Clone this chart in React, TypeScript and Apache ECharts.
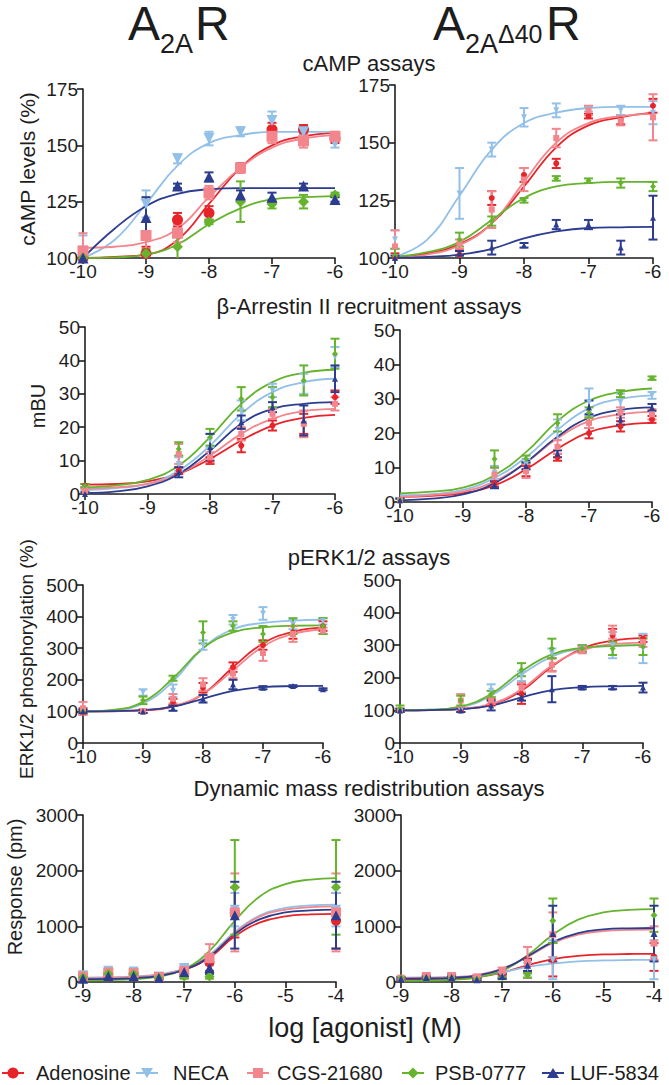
import React, { useEffect, useRef } from "react";
import * as echarts from "echarts";

// ---------- categories / styling per agonist ----------
const AGONISTS = ["Adenosine", "NECA", "CGS-21680", "PSB-0777", "LUF-5834"];
const COLORS = ["#e8242b", "#93c0e8", "#f2868c", "#66b32e", "#2c3d8f"];
const SYMBOLS = ["circle", "triangle", "rect", "diamond", "triangle"];
const SYMBOL_ROT = [0, 180, 0, 0, 0];

// ---------- x positions (log [agonist] M) ----------
const CAMP_X = [-10, -9, -8.5, -8, -7.5, -7, -6.5, -6];
const ARR_X = [-10, -8.5, -8, -7.5, -7, -6.5, -6];
const ERK_X = [-10, -9, -8.5, -8, -7.5, -7, -6.5, -6];
const DMR_X = [-9, -8.5, -8, -7.5, -7, -6.5, -6, -4];
const FIT_X_LOW = [-10, -9.5, -9, -8.5, -8, -7.5, -7, -6.5, -6];
const FIT_X_DMR = [-9, -8.5, -8, -7.5, -7, -6.5, -6, -5.5, -5, -4.5, -4];

// ---------- cAMP, A2AR ----------
const CAMP_WT_MEAN = [
  [100, 102, 117, 120, 140, 157, 157, 153],
  [103, 124, 144, 153, 156, 161, 156, 151],
  [103, 110, 111, 129, 140, 154, 152, 154],
  [100, 102, 105, 116, 125, 124, 125, 128],
  [100, 118, 132, 136, 128, 127, 132, 126],
];
const CAMP_WT_ERR = [
  [5, 3, 3, 3, 2, 3, 2, 2],
  [7, 6, 2, 3, 2, 4, 2, 2],
  [8, 16, 4, 3, 2, 3, 3, 2],
  [4, 2, 6, 1, 9, 2, 3, 1],
  [3, 9, 1, 2, 2, 2, 1, 1],
];
const CAMP_WT_FIT = [
  [100, 100.5, 101.5, 108, 124, 140, 150, 154, 155.5],
  [100, 108, 124, 141, 151, 154.5, 156, 156, 156],
  [104.5, 105, 107, 113, 127, 140, 149, 153, 154.5],
  [100, 100.3, 101.5, 106, 115, 122, 126, 127, 127.5],
  [100, 113, 123, 128.5, 130.5, 131, 131, 131, 131],
];

// ---------- cAMP, A2A-delta40R ----------
const CAMP_D40_MEAN = [
  [100, 101.5, 126, 136, 141, 161.5, 160, 166],
  [108, 128, 147, 161, 164, 164.5, 164, 163],
  [105, 106, 121, 134, 152, 164, 159.5, 161],
  [101, 108, 116, 125, 134.5, 133.5, 132.5, 131],
  [100, 102, 104.5, 105.5, 114.5, 114.5, 104.5, 117.5],
];
const CAMP_D40_ERR = [
  [2, 2, 3, 3, 2, 1, 2, 3],
  [4, 11, 3, 4, 3, 1, 2, 5],
  [7, 2, 8, 5, 4, 2, 2, 10],
  [3, 3, 2, 1, 1, 1, 2, 2],
  [1, 1, 3, 1, 2, 2, 3, 9.5],
];
const CAMP_D40_FIT = [
  [100.5, 102, 106, 115, 131, 148, 157.5, 161, 163],
  [100.5, 108, 127, 147, 158.5, 163, 165, 165.5, 165.5],
  [100, 101.5, 105.5, 115, 133, 150, 158.5, 161.5, 162.5],
  [100.5, 102.5, 107, 116.5, 126, 131, 132.5, 133, 133],
  [100, 100.5, 101.5, 104, 108.5, 111.5, 113, 113.3, 113.5],
];

// ---------- beta-arrestin II, A2AR ----------
const ARR_WT_MEAN = [
  [2.5, 7, 10, 14.5, 20.5, 21, 29],
  [1.5, 9, 16, 25, 31, 33, 41],
  [1, 12, 11, 18, 24, 21, 27],
  [2.5, 13.5, 17, 28.5, 29, 34, 42],
  [0, 6.5, 14, 21.5, 26, 22, 34.5],
];
const ARR_WT_ERR = [
  [0.5, 1, 1, 2, 1.5, 3, 2],
  [0.5, 2, 2, 3, 2, 3, 3],
  [0.5, 3, 1.5, 2, 1.5, 4, 2],
  [0.5, 2, 2.5, 3.5, 3, 4.5, 4.5],
  [0.5, 1.5, 4, 2, 1.5, 4.5, 4],
];
const ARR_WT_FIT = [
  [2.8, 3, 3.8, 6, 10.5, 16, 20.5, 22.8, 23.7],
  [1.2, 1.8, 3, 7, 14.5, 24, 30.5, 33.5, 34.5],
  [1.6, 2, 3, 6, 11.5, 18, 22.5, 24.8, 25.5],
  [2, 2.6, 4.2, 8.5, 17, 27, 33.5, 36.3, 37.2],
  [0.3, 0.8, 2.3, 6, 13, 21, 25.5, 27, 27.5],
];

// ---------- beta-arrestin II, A2A-delta40R ----------
const ARR_D40_MEAN = [
  [0.5, 5.5, 9, 13, 20, 22, 24],
  [0.5, 8.5, 11, 21, 29, 29, 31],
  [0.5, 8, 9, 16, 23, 26, 25.5],
  [0.5, 12.5, 12.5, 23, 26, 31.5, 36],
  [0.5, 5, 10.5, 14, 27.5, 24, 27.5],
];
const ARR_D40_ERR = [
  [0.5, 1, 1.5, 1, 1.5, 1.5, 1],
  [0.5, 2, 1.5, 3, 4, 2.5, 1],
  [0.5, 2, 2, 2, 1.5, 1.5, 1.5],
  [0.5, 2.5, 1, 2.5, 1.5, 1, 0.5],
  [0.5, 1, 1, 1, 2, 1.5, 1],
];
const ARR_D40_FIT = [
  [1.5, 1.8, 2.6, 4.8, 9.5, 15.5, 20.3, 22.3, 23],
  [2, 2.3, 3.5, 7, 13, 21, 27.3, 30, 31],
  [1.5, 2, 3, 6, 11.5, 18.5, 23.5, 25.5, 26.3],
  [2.5, 3, 4.2, 7.8, 14.5, 23.5, 29.5, 32, 33],
  [0.5, 1, 2.2, 5.5, 11.5, 19, 24.5, 26.8, 27.5],
];

// ---------- pERK1/2, A2AR ----------
const ERK_WT_MEAN = [
  [100, 100, 130, 175, 240, 310, 350, 370],
  [100, 160, 165, 310, 390, 410, 375, 385],
  [110, 100, 140, 185, 220, 285, 345, 355],
  [100, 135, 205, 350, 370, 345, 370, 370],
  [100, 100, 110, 140, 185, 175, 180, 170],
];
const ERK_WT_ERR = [
  [10, 5, 10, 15, 15, 15, 20, 15],
  [5, 10, 20, 15, 15, 20, 15, 10],
  [20, 5, 15, 20, 15, 25, 25, 10],
  [5, 12, 8, 35, 15, 25, 25, 25],
  [5, 5, 8, 12, 15, 5, 3, 3],
];
const ERK_WT_FIT = [
  [100, 100.5, 103, 115, 155, 240, 315, 352, 365],
  [100, 104, 125, 195, 300, 360, 380, 387, 390],
  [100, 101, 104, 117, 155, 230, 305, 345, 360],
  [100, 105, 130, 205, 300, 350, 366, 371, 372],
  [100, 101, 104, 115, 140, 165, 177, 180, 181],
];

// ---------- pERK1/2, A2A-delta40R ----------
const ERK_D40_MEAN = [
  [100, 100, 125, 150, 240, 290, 330, 320],
  [100, 100, 160, 205, 275, 290, 300, 290],
  [100, 130, 130, 170, 240, 285, 340, 310],
  [105, 130, 150, 225, 290, 290, 290, 295],
  [100, 100, 115, 140, 165, 170, 170, 170],
];
const ERK_D40_ERR = [
  [5, 5, 10, 30, 20, 10, 20, 10],
  [5, 5, 20, 15, 15, 10, 40, 45],
  [5, 20, 10, 15, 20, 10, 20, 15],
  [10, 15, 10, 20, 30, 10, 20, 25],
  [5, 5, 15, 10, 40, 5, 5, 15],
];
const ERK_D40_FIT = [
  [100, 101, 104, 118, 160, 235, 290, 314, 322],
  [100, 102, 110, 145, 210, 265, 290, 297, 300],
  [100, 101, 105, 120, 165, 238, 285, 303, 308],
  [100, 102, 112, 150, 220, 272, 292, 298, 300],
  [100, 101, 104, 115, 140, 162, 171, 174, 175],
];

// ---------- DMR, A2AR ----------
const DMR_WT_MEAN = [
  [80, 130, 150, 80, 150, 350, 1250, 1100],
  [120, 200, 190, 100, 250, 400, 1300, 1300],
  [100, 170, 160, 90, 200, 430, 1250, 1250],
  [80, 150, 140, 70, 100, 100, 1700, 1700],
  [60, 110, 110, 70, 180, 250, 1200, 1200],
];
const DMR_WT_ERR = [
  [30, 40, 40, 30, 80, 150, 450, 500],
  [40, 50, 50, 40, 60, 100, 300, 300],
  [40, 40, 60, 40, 120, 250, 700, 700],
  [30, 40, 40, 30, 40, 40, 850, 850],
  [30, 40, 40, 30, 60, 100, 600, 600],
];
const DMR_WT_FIT = [
  [60, 65, 80, 120, 220, 440, 820, 1070, 1180, 1215, 1225],
  [80, 85, 100, 140, 240, 490, 900, 1200, 1330, 1375, 1390],
  [70, 75, 90, 130, 230, 470, 880, 1180, 1300, 1345, 1360],
  [30, 35, 50, 100, 230, 560, 1100, 1540, 1760, 1840, 1865],
  [50, 55, 70, 110, 220, 460, 860, 1130, 1250, 1285, 1300],
];

// ---------- DMR, A2A-delta40R ----------
const DMR_D40_MEAN = [
  [60, 90, 100, 60, 120, 300, 400, 450],
  [60, 80, 90, 70, 130, 250, 400, 400],
  [70, 110, 110, 90, 200, 350, 850, 700],
  [70, 70, 70, 50, 80, 120, 1100, 1200],
  [60, 80, 80, 40, 100, 300, 870, 870],
];
const DMR_D40_ERR = [
  [20, 30, 30, 20, 40, 120, 300, 250],
  [20, 30, 30, 20, 40, 100, 350, 350],
  [30, 50, 50, 40, 60, 280, 400, 300],
  [20, 20, 20, 20, 30, 40, 400, 300],
  [20, 20, 20, 20, 40, 100, 500, 500],
];
const DMR_D40_FIT = [
  [50, 52, 60, 90, 170, 300, 410, 470, 495, 503, 505],
  [80, 82, 90, 115, 175, 270, 330, 370, 388, 395, 397],
  [70, 73, 85, 125, 240, 450, 700, 850, 915, 935, 940],
  [20, 25, 40, 80, 200, 480, 850, 1120, 1250, 1295, 1310],
  [60, 63, 75, 115, 230, 460, 720, 880, 945, 965, 970],
];

// ---------- texts ----------
const SECTION_TITLES = [
  "cAMP assays",
  "β-Arrestin II recruitment assays",
  "pERK1/2 assays",
  "Dynamic mass redistribution assays",
];
const Y_NAMES = ["cAMP levels (%)", "mBU", "ERK1/2 phosphorylation (%)", "Response (pm)"];
const X_NAME = "log [agonist] (M)";

const FONT = "'Liberation Sans', Arial, Helvetica, sans-serif";
const INK = "#1d1d1d";

// layout of the eight panels (positions are layout, not data)
const PANELS = [
  { g: { left: 83, top: 89, width: 252, height: 169 }, xr: [-10, -6], yr: [100, 175, 25], x: CAMP_X, m: CAMP_WT_MEAN, e: CAMP_WT_ERR, fx: FIT_X_LOW, f: CAMP_WT_FIT, sz: 11 },
  { g: { left: 395, top: 85, width: 258, height: 173 }, xr: [-10, -6], yr: [100, 175, 25], x: CAMP_X, m: CAMP_D40_MEAN, e: CAMP_D40_ERR, fx: FIT_X_LOW, f: CAMP_D40_FIT, sz: 6 },
  { g: { left: 85, top: 327, width: 250, height: 167 }, xr: [-10, -6], yr: [0, 50, 10], x: ARR_X, m: ARR_WT_MEAN, e: ARR_WT_ERR, fx: FIT_X_LOW, f: ARR_WT_FIT, sz: 6 },
  { g: { left: 400, top: 330, width: 252, height: 172 }, xr: [-10, -6], yr: [0, 50, 10], x: ARR_X, m: ARR_D40_MEAN, e: ARR_D40_ERR, fx: FIT_X_LOW, f: ARR_D40_FIT, sz: 6 },
  { g: { left: 83, top: 585, width: 240, height: 158 }, xr: [-10, -6], yr: [0, 500, 100], x: ERK_X, m: ERK_WT_MEAN, e: ERK_WT_ERR, fx: FIT_X_LOW, f: ERK_WT_FIT, sz: 6 },
  { g: { left: 400, top: 580, width: 243, height: 163 }, xr: [-10, -6], yr: [0, 500, 100], x: ERK_X, m: ERK_D40_MEAN, e: ERK_D40_ERR, fx: FIT_X_LOW, f: ERK_D40_FIT, sz: 6 },
  { g: { left: 83, top: 815, width: 253, height: 167 }, xr: [-9, -4], yr: [0, 3000, 1000], x: DMR_X, m: DMR_WT_MEAN, e: DMR_WT_ERR, fx: FIT_X_DMR, f: DMR_WT_FIT, sz: 10 },
  { g: { left: 401, top: 815, width: 253, height: 167 }, xr: [-9, -4], yr: [0, 3000, 1000], x: DMR_X, m: DMR_D40_MEAN, e: DMR_D40_ERR, fx: FIT_X_DMR, f: DMR_D40_FIT, sz: 7 },
];

function buildOption() {
  const grid: any[] = [];
  const xAxis: any[] = [];
  const yAxis: any[] = [];
  const series: any[] = [];
  const axisLine = { show: true, onZero: false, lineStyle: { color: INK, width: 1.6 } };
  const axisTick = { show: true, inside: false, length: 6, lineStyle: { color: INK, width: 1.6 } };
  const axisLabel = {
    color: INK, fontSize: 19, fontFamily: FONT, showMinLabel: true, showMaxLabel: true,
    formatter: (v: number) => String(v),
  };

  PANELS.forEach((p, pi) => {
    grid.push({ ...p.g, containLabel: false });
    xAxis.push({
      type: "value", gridIndex: pi, min: p.xr[0], max: p.xr[1], interval: 1,
      axisLine, axisTick, splitLine: { show: false },
      axisLabel: { ...axisLabel, margin: 4 },
    });
    yAxis.push({
      type: "value", gridIndex: pi, min: p.yr[0], max: p.yr[1], interval: p.yr[2],
      axisLine, axisTick, splitLine: { show: false },
      axisLabel: { ...axisLabel, margin: 5 },
    });
    AGONISTS.forEach((name, ai) => {
      const color = COLORS[ai];
      // fitted curve
      series.push({
        type: "line", name, xAxisIndex: pi, yAxisIndex: pi,
        data: p.fx.map((xv, i) => [xv, p.f[ai][i]]),
        smooth: 0.45, showSymbol: false, symbol: "none",
        lineStyle: { color, width: 1.8 }, clip: false, z: 2, silent: true,
      });
      // error bars
      series.push({
        type: "custom", name, xAxisIndex: pi, yAxisIndex: pi, clip: false, z: 3, silent: true,
        data: p.m[ai].map((mv, i) => [p.x[i], mv, p.e[ai][i]]),
        renderItem: (params: any, api: any) => {
          const xv = api.value(0), mv = api.value(1), ev = api.value(2);
          const top = api.coord([xv, mv + ev]);
          const bot = api.coord([xv, mv - ev]);
          const cs = params.coordSys;
          const limit = cs.y + cs.height;
          const yb = Math.min(bot[1], limit);
          const hw = 4.5;
          const st = { stroke: color, lineWidth: 2 };
          const children: any[] = [
            { type: "line", shape: { x1: top[0], y1: top[1], x2: top[0], y2: yb }, style: st },
            { type: "line", shape: { x1: top[0] - hw, y1: top[1], x2: top[0] + hw, y2: top[1] }, style: st },
          ];
          if (bot[1] < limit - 0.5) {
            children.push({ type: "line", shape: { x1: bot[0] - hw, y1: bot[1], x2: bot[0] + hw, y2: bot[1] }, style: st });
          }
          return { type: "group", children };
        },
      });
      // data points
      series.push({
        type: "scatter", name, xAxisIndex: pi, yAxisIndex: pi, clip: false, z: 4, silent: true,
        data: p.m[ai].map((mv, i) => [p.x[i], mv]),
        symbol: SYMBOLS[ai], symbolRotate: SYMBOL_ROT[ai], symbolSize: p.sz,
        itemStyle: { color, opacity: 1 },
      });
    });
  });

  const graphic: any[] = [];
  const txt = (x: number, y: number, text: string, size: number, extra: any = {}) => {
    const { align, lineHeight, ...rest } = extra;
    return {
      type: "text", x, y, silent: true, ...rest,
      style: {
        text, fontSize: size, fontFamily: FONT, fill: INK,
        align: align || "center", verticalAlign: "middle",
        lineHeight: lineHeight || Math.round(size * 1.15),
      },
    };
  };
  // headline titles
  graphic.push(txt(128, 23, "A", 48, { align: "left", lineHeight: 40 }));
  graphic.push(txt(160, 43.5, "2A", 27, { align: "left", lineHeight: 24 }));
  graphic.push(txt(195, 23, "R", 48, { align: "left", lineHeight: 40 }));
  graphic.push(txt(433, 23, "A", 48, { align: "left", lineHeight: 40 }));
  graphic.push(txt(465, 43.5, "2A", 27, { align: "left", lineHeight: 24 }));
  graphic.push(txt(498, 34, "Δ40", 25, { align: "left", lineHeight: 22 }));
  graphic.push(txt(546, 23, "R", 48, { align: "left", lineHeight: 40 }));
  // section titles
  const secY = [63, 306, 557, 788];
  SECTION_TITLES.forEach((t, i) => graphic.push(txt(369, secY[i], t, 22)));
  // y-axis names
  const yNamePos = [[27, 169, 21], [38, 406, 20], [26, 659, 19], [15, 887, 20]];
  Y_NAMES.forEach((t, i) => {
    const [x, y, s] = yNamePos[i];
    graphic.push(txt(x, y, t, s, { rotation: Math.PI / 2 }));
  });
  // x-axis name
  graphic.push(txt(365, 1028, X_NAME, 27));
  // legend
  const legMarker = [13, 147, 258, 413, 553];
  const legText = [36, 173, 277, 435, 570];
  const ly = 1073;
  AGONISTS.forEach((name, ai) => {
    const cx = legMarker[ai];
    const color = COLORS[ai];
    graphic.push({ type: "line", silent: true, shape: { x1: cx - 11, y1: ly, x2: cx + 11, y2: ly }, style: { stroke: color, lineWidth: 2 } });
    let shape: any;
    if (ai === 0) shape = { type: "circle", shape: { cx, cy: ly, r: 5.5 } };
    else if (ai === 1) shape = { type: "polygon", shape: { points: [[cx - 6, ly - 5], [cx + 6, ly - 5], [cx, ly + 5]] } };
    else if (ai === 2) shape = { type: "rect", shape: { x: cx - 5, y: ly - 5, width: 10, height: 10 } };
    else if (ai === 3) shape = { type: "polygon", shape: { points: [[cx, ly - 5.5], [cx + 5.5, ly], [cx, ly + 5.5], [cx - 5.5, ly]] } };
    else shape = { type: "polygon", shape: { points: [[cx - 6, ly + 5], [cx + 6, ly + 5], [cx, ly - 5]] } };
    graphic.push({ ...shape, silent: true, style: { fill: color } });
    graphic.push(txt(legText[ai], ly, name, 20, { align: "left" }));
  });

  return {
    animation: false,
    backgroundColor: "#ffffff",
    textStyle: { fontFamily: FONT },
    grid, xAxis, yAxis, series, graphic,
  };
}

export default function App() {
  const ref = useRef<HTMLDivElement>(null);
  useEffect(() => {
    if (!ref.current) return;
    const chart = echarts.init(ref.current, null, { renderer: "svg" });
    chart.setOption(buildOption() as any);
    return () => chart.dispose();
  }, []);
  return (
    <div
      ref={ref}
      style={{ position: "fixed", left: 0, top: 0, width: 669, height: 1085, background: "#fff" }}
    />
  );
}
